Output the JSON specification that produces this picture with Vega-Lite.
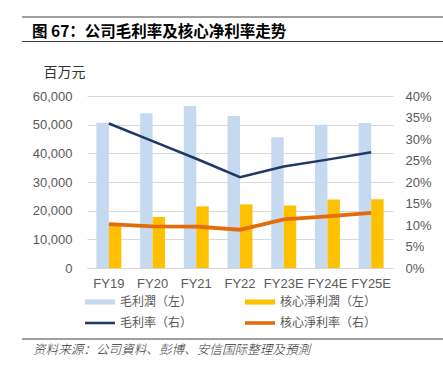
{
  "$schema": "https://vega.github.io/schema/vega-lite/v6.json",
  "width": 306,
  "height": 172,
  "autosize": {"type": "none"},
  "padding": {"left": 87, "top": 96, "right": 50, "bottom": 107},
  "background": "white",
  "config": {"view": {"stroke": null}, "font": "Liberation Sans"},
  "layer": [
    {
      "data": {"values": [
        {"year": "FY19", "series": "毛利潤（左）", "value": 50700},
        {"year": "FY19", "series": "核心淨利潤（左）", "value": 15500},
        {"year": "FY20", "series": "毛利潤（左）", "value": 54000},
        {"year": "FY20", "series": "核心淨利潤（左）", "value": 17800},
        {"year": "FY21", "series": "毛利潤（左）", "value": 56500},
        {"year": "FY21", "series": "核心淨利潤（左）", "value": 21500},
        {"year": "FY22", "series": "毛利潤（左）", "value": 53000},
        {"year": "FY22", "series": "核心淨利潤（左）", "value": 22200},
        {"year": "FY23E", "series": "毛利潤（左）", "value": 45600},
        {"year": "FY23E", "series": "核心淨利潤（左）", "value": 21800},
        {"year": "FY24E", "series": "毛利潤（左）", "value": 50000},
        {"year": "FY24E", "series": "核心淨利潤（左）", "value": 23900},
        {"year": "FY25E", "series": "毛利潤（左）", "value": 50600},
        {"year": "FY25E", "series": "核心淨利潤（左）", "value": 24000}
      ]},
      "mark": {"type": "bar"},
      "encoding": {
        "x": {"field": "year", "type": "nominal", "sort": null,
          "scale": {"paddingInner": 0.43, "paddingOuter": 0.215},
          "axis": {"title": null, "labelAngle": 0, "ticks": false, "domainColor": "#d9d9d9", "labelPadding": 9, "labelFontSize": 13, "labelColor": "#595959", "labelFont": "Liberation Sans"}},
        "xOffset": {"field": "series", "type": "nominal", "sort": ["毛利潤（左）", "核心淨利潤（左）"], "scale": {"paddingInner": 0, "paddingOuter": 0}},
        "y": {"field": "value", "type": "quantitative",
          "scale": {"domain": [0, 60000]},
          "axis": {"values": [0, 10000, 20000, 30000, 40000, 50000, 60000], "format": ",.0f", "title": "百万元", "titleAngle": 0, "titleAlign": "left", "titleBaseline": "middle", "titleX": -44, "titleY": -24, "titleFont": "Noto Sans CJK SC", "titleFontSize": 14, "titleFontWeight": "normal", "titleColor": "#333333", "ticks": false, "domain": false, "gridColor": "#d9d9d9", "labelPadding": 15, "labelFontSize": 13, "labelColor": "#595959", "labelFont": "Liberation Sans"}},
        "color": {"field": "series", "type": "nominal",
          "scale": {"domain": ["毛利潤（左）", "核心淨利潤（左）", "毛利率（右）", "核心淨利率（右）"], "range": ["#c5d9f1", "#ffc000", "#1f3864", "#e36c09"]},
          "legend": {"orient": "none", "direction": "horizontal", "legendX": -2, "legendY": 191, "columns": 2, "title": null, "labelFontSize": 12, "labelColor": "#595959", "labelFont": "Noto Sans CJK SC", "symbolSize": 900, "labelOffset": 5, "columnPadding": 52, "rowPadding": -11,
            "encode": {"symbols": {"update": {
              "shape": {"signal": "indexof(['毛利率（右）','核心淨利率（右）'], datum.value) >= 0 ? (datum.value == '毛利率（右）' ? 'M-1,-0.085H1V0.085H-1Z' : 'M-1,-0.12H1V0.12H-1Z') : 'M-1,-0.17H1V0.17H-1Z'"},
              "fill": {"signal": "scale('color', datum.value)"},
              "fillOpacity": {"value": 1},
              "strokeWidth": {"value": 0}
            }}}}}
      }
    },
    {
      "data": {"values": [
        {"year": "FY19", "series": "毛利率（右）", "value": 0.336},
        {"year": "FY20", "series": "毛利率（右）", "value": 0.295},
        {"year": "FY21", "series": "毛利率（右）", "value": 0.254},
        {"year": "FY22", "series": "毛利率（右）", "value": 0.211},
        {"year": "FY23E", "series": "毛利率（右）", "value": 0.236},
        {"year": "FY24E", "series": "毛利率（右）", "value": 0.252},
        {"year": "FY25E", "series": "毛利率（右）", "value": 0.269},
        {"year": "FY19", "series": "核心淨利率（右）", "value": 0.102},
        {"year": "FY20", "series": "核心淨利率（右）", "value": 0.097},
        {"year": "FY21", "series": "核心淨利率（右）", "value": 0.096},
        {"year": "FY22", "series": "核心淨利率（右）", "value": 0.089},
        {"year": "FY23E", "series": "核心淨利率（右）", "value": 0.113},
        {"year": "FY24E", "series": "核心淨利率（右）", "value": 0.120},
        {"year": "FY25E", "series": "核心淨利率（右）", "value": 0.128}
      ]},
      "mark": {"type": "line"},
      "encoding": {
        "x": {"field": "year", "type": "nominal", "sort": null},
        "y": {"field": "value", "type": "quantitative",
          "scale": {"domain": [0, 0.4]},
          "axis": {"orient": "right", "values": [0, 0.05, 0.1, 0.15, 0.2, 0.25, 0.3, 0.35, 0.4], "format": ".0%", "title": null, "grid": false, "ticks": false, "domain": false, "labelPadding": 12, "labelFontSize": 13, "labelColor": "#595959", "labelFont": "Liberation Sans"}},
        "color": {"field": "series", "type": "nominal"},
        "strokeWidth": {"field": "series", "type": "nominal", "scale": {"domain": ["毛利率（右）", "核心淨利率（右）"], "range": [2.5, 3.8]}, "legend": null}
      }
    },
    {
      "data": {"values": [{}]},
      "mark": {"type": "rule", "color": "#404040", "strokeWidth": 1},
      "encoding": {"x": {"value": -65}, "x2": {"value": 356}, "y": {"value": -79}}
    },
    {
      "data": {"values": [{}]},
      "mark": {"type": "rule", "color": "#404040", "strokeWidth": 1},
      "encoding": {"x": {"value": -65}, "x2": {"value": 356}, "y": {"value": -54.5}}
    },
    {
      "data": {"values": [{}]},
      "mark": {"type": "rule", "color": "#404040", "strokeWidth": 1},
      "encoding": {"x": {"value": -65}, "x2": {"value": 356}, "y": {"value": 243}}
    },
    {
      "data": {"values": [{}]},
      "mark": {"type": "text", "text": "图 67：公司毛利率及核心净利率走势", "align": "left", "baseline": "middle", "font": "Noto Sans CJK SC", "fontWeight": "bold", "fontSize": 15.5, "color": "#000000"},
      "encoding": {"x": {"value": -55}, "y": {"value": -64.5}}
    },
    {
      "data": {"values": [{}]},
      "mark": {"type": "text", "text": "资料来源：公司資料、彭博、安信国际整理及預測", "align": "left", "baseline": "middle", "font": "Noto Sans CJK SC", "fontStyle": "italic", "fontWeight": 300, "fontSize": 12.6, "color": "#333333"},
      "encoding": {"x": {"value": -54}, "y": {"value": 254}}
    }
  ],
  "resolve": {"scale": {"y": "independent"}}
}
